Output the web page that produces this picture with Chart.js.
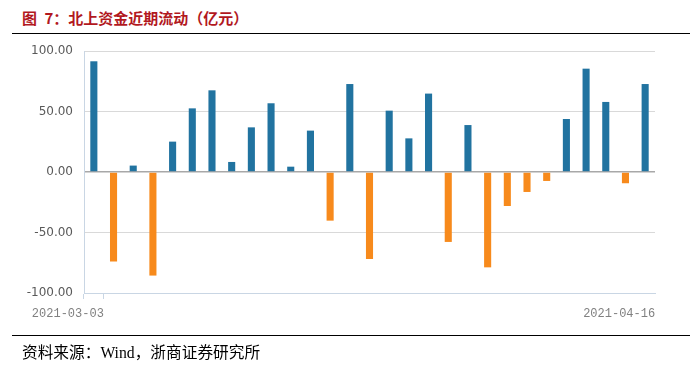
<!DOCTYPE html>
<html>
<head>
<meta charset="utf-8">
<script src="https://cdn.jsdelivr.net/npm/chart.js@4"></script>
<style>
  html, body { margin: 0; padding: 0; background: #fff; }
  #wrap { position: relative; width: 690px; height: 373px; overflow: hidden; }
  #c { position: absolute; left: 0; top: 0; }
  .title { position: absolute; left: 22px; top: 8px; font-family: "Noto Sans CJK SC", sans-serif; font-weight: bold; font-size: 15px; color: #b2181e; line-height: 20px; white-space: nowrap; }
  .rule { position: absolute; left: 12px; right: 0; height: 1px; background: #000; }
  .source { position: absolute; left: 22px; top: 343px; font-family: "Liberation Serif", "Noto Sans CJK SC", serif; font-size: 15.7px; color: #000; line-height: 20px; white-space: nowrap; }
</style>
</head>
<body>
<div id="wrap">
  <div class="title">图&ensp;7：北上资金近期流动（亿元）</div>
  <div class="rule" style="top:33px"></div>
  <canvas id="c" width="690" height="373"></canvas>
  <div class="rule" style="top:335px"></div>
  <div class="source">资料来源：Wind，浙商证券研究所</div>
</div>
<script>
const dates = [
  "2021-03-03","2021-03-04","2021-03-05","2021-03-08","2021-03-09","2021-03-10",
  "2021-03-11","2021-03-12","2021-03-15","2021-03-16","2021-03-17","2021-03-18",
  "2021-03-19","2021-03-22","2021-03-23","2021-03-24","2021-03-25","2021-03-26",
  "2021-03-29","2021-03-30","2021-03-31","2021-04-07","2021-04-08","2021-04-09",
  "2021-04-12","2021-04-13","2021-04-14","2021-04-15","2021-04-16"
];
const netFlow = [
  91.5, -74.0, 5.3, -85.6, 25.1, 52.6, 67.5, 8.3, 36.9, 56.8, 4.4, 34.2,
  -40.2, 72.7, -71.9, 50.7, 27.8, 64.8, -57.8, 38.8, -78.8, -28.1, -16.5, -7.4,
  43.8, 85.4, 57.9, -9.3, 72.7
];
const yTicks = [-100, -50, 0, 50, 100];

const BLUE = "#2173a0", ORANGE = "#f78a1c", AXIS = "#c9d6e4";

new Chart(document.getElementById("c"), {
  type: "bar",
  data: {
    labels: dates,
    datasets: [{
      data: netFlow,
      backgroundColor: netFlow.map(v => v >= 0 ? BLUE : ORANGE),
      borderWidth: 0,
      barPercentage: 0.72,
      categoryPercentage: 0.5
    }]
  },
  options: {
    responsive: false,
    animation: false,
    devicePixelRatio: 1,
    layout: { padding: { top: 51, right: 35, bottom: 50, left: 0 } },
    plugins: { legend: { display: false }, tooltip: { enabled: false } },
    scales: {
      x: {
        afterFit: s => { s.height = 30; },
        grid: {
          display: true, drawOnChartArea: false, drawTicks: true, tickLength: 6, offset: true,
          color: ctx => (ctx.index === 0 || ctx.index === 1 || ctx.index === dates.length) ? AXIS : "rgba(0,0,0,0)"
        },
        border: { display: true, color: AXIS, width: 1 },
        ticks: {
          autoSkip: false, maxRotation: 0, minRotation: 0, align: "end", labelOffset: 10, padding: 8,
          color: "#808080", font: { family: "Liberation Mono", size: 12 },
          callback: (v, i) => (i === 0 || i === dates.length - 1) ? dates[i] : ""
        }
      },
      y: {
        min: yTicks[0], max: yTicks[yTicks.length - 1],
        afterFit: s => { s.width = 84; },
        afterBuildTicks: s => { s.ticks = yTicks.map(v => ({ value: v })); },
        grid: {
          drawTicks: false,
          color: ctx => ctx.tick && ctx.tick.value === 0 ? "#a8a8a8" : (ctx.tick && ctx.tick.value === -100 ? "rgba(0,0,0,0)" : "#d9d9d9"),
          lineWidth: ctx => ctx.tick && ctx.tick.value === 0 ? 1.5 : 1
        },
        border: { display: true, color: AXIS, width: 1 },
        ticks: {
          padding: 11, color: "#595959", font: { family: "DejaVu Sans", size: 12 },
          callback: v => Number(v).toFixed(2)
        }
      }
    }
  }
});
</script>
</body>
</html>
